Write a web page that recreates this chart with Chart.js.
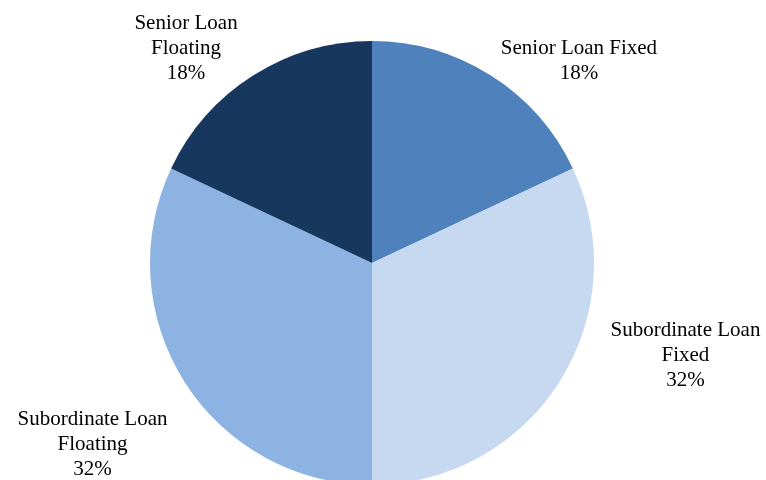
<!DOCTYPE html>
<html>
<head>
<meta charset="utf-8">
<script src="https://cdn.jsdelivr.net/npm/chart.js@4/dist/chart.umd.min.js"></script>
<style>
  html, body { margin: 0; padding: 0; background: #fff; }
  #wrap { width: 766px; height: 480px; overflow: hidden; position: relative; }
  #box { width: 766px; height: 500px; }
</style>
</head>
<body>
<div id="wrap"><div id="box"><canvas id="pie"></canvas></div></div>
<script>
// slice data, clockwise from 12 o'clock
const categories = ['Senior Loan Fixed', 'Subordinate Loan Fixed', 'Subordinate Loan Floating', 'Senior Loan Floating'];
const shares = [18, 32, 32, 18];
const sliceColors = ['#4F81BD', '#C6D9F1', '#8DB3E2', '#17375E'];
// how each label is broken into lines
const labelLines = [
    ['Senior Loan Fixed'],
    ['Subordinate Loan', 'Fixed'],
    ['Subordinate Loan', 'Floating'],
    ['Senior Loan', 'Floating']
];
// shift of each label block from the slice's outer mid point
const labelNudge = [[88, -15], [126, -26], [-92, 63], [-67, -27]];

// draws the category name + percent outside each slice
const outsideLabels = {
    id: 'outsideLabels',
    afterDatasetsDraw(chart) {
        const ctx = chart.ctx;
        const meta = chart.getDatasetMeta(0);
        ctx.save();
        ctx.font = '21px "Liberation Serif", "Times New Roman", serif';
        ctx.fillStyle = '#000';
        ctx.textAlign = 'center';
        ctx.textBaseline = 'middle';
        const lineH = 25;
        meta.data.forEach((arc, i) => {
            const mid = (arc.startAngle + arc.endAngle) / 2;
            const x = arc.x + Math.cos(mid) * arc.outerRadius + labelNudge[i][0];
            const y = arc.y + Math.sin(mid) * arc.outerRadius + labelNudge[i][1];
            const lines = labelLines[i].concat([shares[i] + '%']);
            const top = y - (lines.length - 1) * lineH / 2;
            lines.forEach((t, k) => ctx.fillText(t, x, top + k * lineH));
        });
        ctx.restore();
    }
};

new Chart(document.getElementById('pie'), {
    type: 'pie',
    data: {
        labels: categories,
        datasets: [{ data: shares, backgroundColor: sliceColors, borderWidth: 0 }]
    },
    options: {
        responsive: true,
        maintainAspectRatio: false,
        animation: false,
        layout: { padding: { left: 150, right: 172, top: 41, bottom: 15 } },
        plugins: { legend: { display: false }, tooltip: { enabled: false } }
    },
    plugins: [outsideLabels]
});
</script>
</body>
</html>
